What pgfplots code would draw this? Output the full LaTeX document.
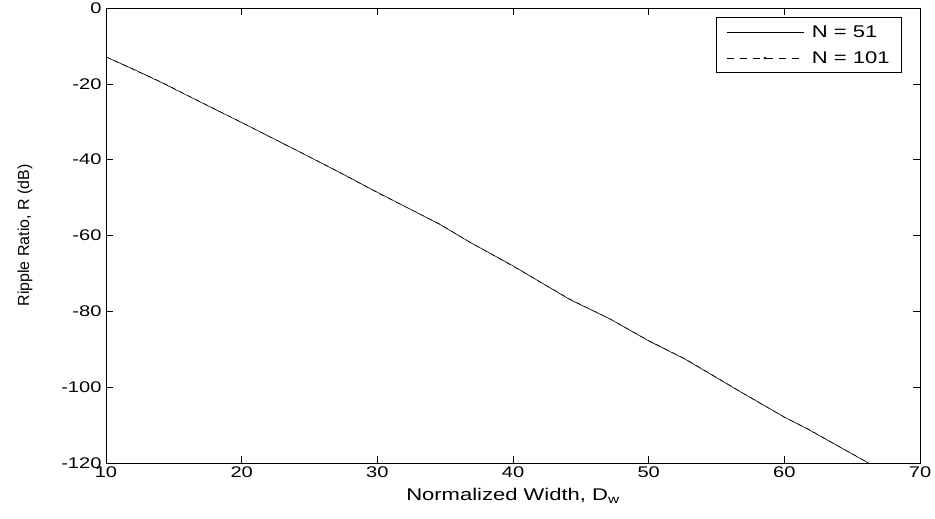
\documentclass[border=0pt]{standalone}
\usepackage{fontspec}
\setmainfont{Liberation Sans}
\newfontfamily\stf{Liberation Sans}[FakeStretch=1.3]
\newfontfamily\ylfont{Liberation Sans}
\usepackage{pgfplots}
\pgfplotsset{compat=1.18}
\usetikzlibrary{calc}
\begin{document}
\begin{tikzpicture}
\begin{axis}[
  scale only axis,
  width=814bp, height=455bp,
  xmin=10, xmax=70, ymin=-120, ymax=0,
  xtick={10,20,...,70}, ytick={-120,-100,...,0},
  tick align=inside,
  major tick length=7bp,
  tick style={black, line width=0.6pt},
  axis line style={line width=0.8pt},
  /pgf/number format/assume math mode=true,
  ticklabel style={font=\stf\fontsize{15.5}{18}\selectfont},
  yticklabel style={xshift=-1bp},
  xlabel={Normalized Width, D\textsubscript{w}},
  ylabel={\ylfont Ripple Ratio, R (dB)},
  xlabel style={font=\stf\fontsize{17}{20}\selectfont, yshift=-4bp},
  ylabel style={font=\fontsize{16}{19}\selectfont, yshift=22bp},
  legend style={at={(1,1)}, anchor=north east, xshift=-18bp, yshift=-9bp,
    font=\stf\fontsize{17}{20}\selectfont, draw=black, line width=0.8pt,
    inner xsep=10bp, inner ysep=6bp, row sep=9bp},
  legend cell align=left,
]
\addplot[black, line width=0.6pt,
  legend image code/.code={\draw[black, line width=0.6pt] (0,0) -- (77bp,0);}]
coordinates {
(10,-12.9) (12,-16.1) (14,-19.5) (16.93,-24.77) (20,-30.2) (24.30,-37.99)
(27.25,-43.43) (30,-48.6) (34.62,-57.10) (36.83,-61.78) (40,-68.0) (44.20,-76.92)
(47.15,-82.02) (50,-87.8) (52.68,-92.60) (56.73,-101.16) (60,-107.9) (61.74,-111.10)
(64,-115.6) (66.2,-120)
};
\addlegendentry{\hspace{6bp}N = 51}
\addplot[black, line width=0.5pt, dash pattern=on 5bp off 4bp,
  legend image code/.code={\draw[black, line width=0.5pt, dash pattern=on 7bp off 6bp] (0,0) -- (77bp,0); \fill[black] (38.5bp,0) circle (1.1bp);}]
coordinates {
(10,-12.9) (12,-16.2) (14,-19.4) (16.93,-24.7) (20,-30.2) (24.30,-38.0)
(27.25,-43.4) (30,-48.7) (34.62,-57.0) (36.83,-61.8) (40,-68.1) (44.20,-76.8)
(47.15,-82.0) (50,-87.7) (52.68,-92.5) (56.73,-101.1) (60,-107.9) (61.74,-111.0)
(64,-115.6) (66.2,-120)
};
\addlegendentry{\hspace{6bp}N = 101}
\end{axis}
\pgfresetboundingbox
\path[use as bounding box] ($(current axis.south west)+(-106bp,-55bp)$) rectangle ($(current axis.north east)+(15bp,8bp)$);
\end{tikzpicture}
\end{document}
